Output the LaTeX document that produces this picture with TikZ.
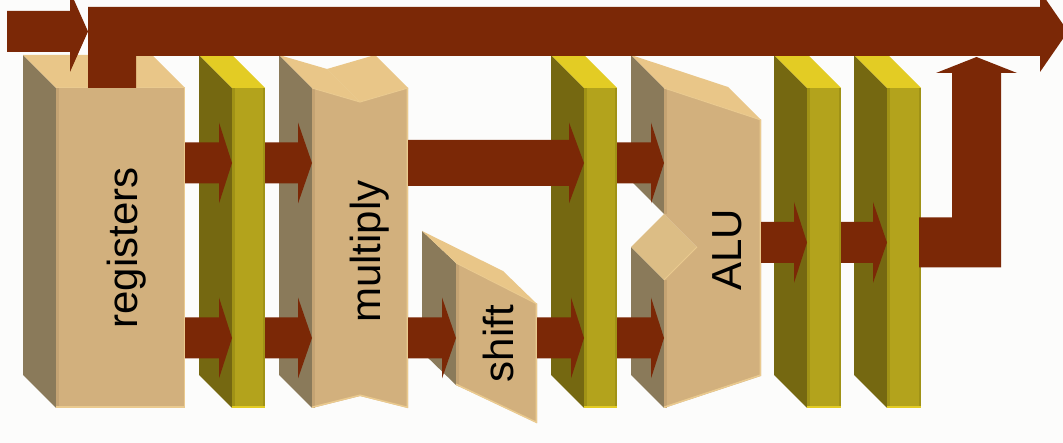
\documentclass[tikz,border=0pt]{standalone}
\usepackage{fontspec}
\setmainfont{Liberation Sans}
\usetikzlibrary{calc}

\definecolor{bg}{HTML}{FCFCFB}
\definecolor{tanside}{HTML}{8A7A5A}
\definecolor{tanfront}{HTML}{D2B07D}
\definecolor{tantop}{HTML}{E9C688}
\definecolor{tannotch}{HTML}{DCBD85}
\definecolor{tanedge}{HTML}{C4A373}
\definecolor{tanlight}{HTML}{EACA8F}
\definecolor{ylwside}{HTML}{756811}
\definecolor{ylwfront}{HTML}{B3A31C}
\definecolor{ylwtop}{HTML}{E3CC24}
\definecolor{ylwedge}{HTML}{A09216}
\definecolor{busred}{HTML}{7B2806}

\tikzset{
  face/.style={rectangle, inner sep=0pt, outer sep=0pt},
  lbl/.style={font=\fontsize{42}{50}\selectfont, text=black, inner sep=0pt,
              anchor=base, rotate=90},
  bus/.style={fill=busred},
}

% horizontal fat arrow: start, tip, shaft half-width, head half-width, head length
\newcommand\fatarrow[5]{%
  \fill[bus] let \p1=(#1), \p2=(#2) in
    (\x1,\y2+#3pt) -- (\x2-#5pt,\y2+#3pt) -- (\x2-#5pt,\y2+#4pt) -- (\x2,\y2)
    -- (\x2-#5pt,\y2-#4pt) -- (\x2-#5pt,\y2-#3pt) -- (\x1,\y2-#3pt) -- cycle;}

% tan block with a rectangular front face
\newcommand\tanslab[1]{%
  \fill[tanside] (#1.north west) -- ++(-33,-33) -- ($(#1.south west)+(-33,-33)$)
    -- (#1.south west) -- cycle;
  \fill[tantop] (#1.north west) -- ++(-33,-33) -- ($(#1.north east)+(-33,-33)$)
    -- (#1.north east) -- cycle;
  \fill[tanfront] (#1.north west) rectangle (#1.south east);
  \fill[tanedge] (#1.north west) rectangle ($(#1.south west)+(3,0)$);
  \draw[tanlight, line width=1.5pt] ($(#1.north east)+(-0.75,0)$)
    -- ($(#1.south east)+(-0.75,-0.75)$) -- ($(#1.south west)+(0,-0.75)$);
  \draw[tanlight, line width=1pt] (#1.north west) -- (#1.north east);}

% yellow pipeline register
\newcommand\ylwslab[1]{%
  \fill[ylwside] (#1.north west) -- ++(-33,-33) -- ($(#1.south west)+(-33,-33)$)
    -- (#1.south west) -- cycle;
  \fill[ylwtop] (#1.north west) -- ++(-33,-33) -- ($(#1.north east)+(-33,-33)$)
    -- (#1.north east) -- cycle;
  \fill[ylwfront] (#1.north west) rectangle (#1.south east);
  \fill[ylwedge] (#1.north west) rectangle ($(#1.south west)+(3,0)$);
  \fill[ylwedge] ($(#1.north east)+(-2.5,0)$) rectangle (#1.south east);
  \fill[ylwtop] ($(#1.south west)+(0,-2)$) rectangle (#1.south east);}

\begin{document}
\begin{tikzpicture}[x=1pt,y=-1pt]
\fill[bg] (0,0) rectangle (1063,443);
\useasboundingbox (0,0) rectangle (1063,443);
\clip (0,0) rectangle (1063,443);

% front faces of the stages
\node[face, minimum width=129, minimum height=320] (regs) at (120.5,248) {};
\node[face, minimum width=33,  minimum height=320] (pr1)  at (248.5,248) {};
\node[face, minimum width=96,  minimum height=320] (mul)  at (360,248) {};
\node[face, minimum width=81,  minimum height=160] (sh)   at (496.5,343) {};
\node[face, minimum width=33,  minimum height=320] (pr2)  at (600.5,248) {};
\node[face, minimum width=97,  minimum height=320] (alu)  at (712.5,248) {};
\node[face, minimum width=34,  minimum height=320] (pr3)  at (824,248) {};
\node[face, minimum width=34,  minimum height=320] (pr4)  at (904,248) {};

\coordinate (rowA) at (0,163);
\coordinate (rowB) at (0,338);
\coordinate (rowC) at (0,242.5);
\coordinate (busRoot) at (112,88);
\coordinate (busTip) at (1068,31.5);
\coordinate (inTail) at (7,31.5);
\coordinate (outTip) at (976.5,57);

% register file
\tanslab{regs}
\ylwslab{pr1}

% multiplier: V-shaped top and bottom
\fill[tanside] (mul.north west) -- ++(-33,-33) -- ($(mul.south west)+(-33,-33)$)
  -- (mul.south west) -- cycle;
\fill[tantop] (mul.north west) -- ($(mul.north)+(0,14)$) -- (mul.north east)
  -- ($(mul.north east)+(-33,-33)$) -- ($(mul.north)+(-33,-19)$)
  -- ($(mul.north west)+(-33,-33)$) -- cycle;
\draw[tanlight, line width=0.6pt] ($(mul.north)+(0,14)$) -- ($(mul.north)+(-33,-19)$);
\fill[tanfront] (mul.north west) -- ($(mul.north)+(0,14)$) -- (mul.north east)
  -- (mul.south east) -- ($(mul.south)+(0,-12)$) -- (mul.south west) -- cycle;
\fill[tanedge] (mul.north west) rectangle ($(mul.south west)+(3,0)$);
\draw[tanlight, line width=1.5pt] ($(mul.north east)+(-0.75,0)$)
  -- ($(mul.south east)+(-0.75,-0.75)$) -- ($(mul.south)+(0,-12.75)$)
  -- ($(mul.south west)+(0,-0.75)$);
\draw[tanlight, line width=1pt] (mul.north west) -- ($(mul.north)+(0,14)$) -- (mul.north east);

% shifter: slanted front face
\fill[tanside] (sh.north west) -- ++(-34,-32) -- ($(sh.south west)+(-34,-71)$)
  -- ($(sh.south west)+(0,-38)$) -- cycle;
\fill[tantop] (sh.north west) -- ++(-34,-32) -- ($(sh.north east)+(-34,8)$)
  -- ($(sh.north east)+(0,41)$) -- cycle;
\fill[tanfront] (sh.north west) -- ($(sh.north east)+(0,41)$) -- (sh.south east)
  -- ($(sh.south west)+(0,-38)$) -- cycle;
\fill[tanedge] (sh.north west) -- ($(sh.north west)+(3,1.5)$)
  -- ($(sh.south west)+(3,-36.5)$) -- ($(sh.south west)+(0,-38)$) -- cycle;
\draw[tanlight, line width=1.5pt] ($(sh.north east)+(-0.75,41)$)
  -- ($(sh.south east)+(-0.75,-0.75)$) -- ($(sh.south west)+(0,-38.75)$);
\draw[tanlight, line width=1pt] (sh.north west) -- ($(sh.north east)+(0,41)$);

\ylwslab{pr2}

% ALU: notched left side
\fill[tanside] (alu.north west) -- ++(-33,-33) -- ($(alu.west)+(-33,-67)$)
  -- ($(alu.west)+(0,-34)$) -- cycle;
\fill[tanside] ($(alu.west)+(-33,-1)$) -- ($(alu.west)+(0,32)$)
  -- (alu.south west) -- ($(alu.south west)+(-33,-33)$) -- cycle;
\fill[tannotch] ($(alu.west)+(-33,-1)$) -- ($(alu.west)+(0,-34)$)
  -- ($(alu.west)+(33,-1)$) -- ($(alu.west)+(0,32)$) -- cycle;
\fill[tantop] (alu.north west) -- ++(-33,-33) -- ($(alu.north east)+(-33,-1)$)
  -- ($(alu.north east)+(0,32)$) -- cycle;
\fill[tanfront] (alu.north west) -- ($(alu.north east)+(0,32)$)
  -- ($(alu.south east)+(0,-32)$) -- (alu.south west) -- ($(alu.west)+(0,32)$)
  -- ($(alu.west)+(33,-1)$) -- ($(alu.west)+(0,-34)$) -- cycle;
\fill[tanedge] (alu.north west) rectangle ($(alu.west)+(3,-34)$);
\fill[tanedge] ($(alu.west)+(0,32)$) rectangle ($(alu.south west)+(3,0)$);
\draw[tanlight, line width=1.5pt] ($(alu.north east)+(-0.75,32)$)
  -- ($(alu.south east)+(-0.75,-32.75)$) -- ($(alu.south west)+(0,-0.75)$);
\draw[tanlight, line width=1pt] (alu.north west) -- ($(alu.north east)+(0,32)$);
\draw[tanlight, line width=1pt] ($(alu.west)+(0,32)$) -- ($(alu.west)+(33,-1)$);

\ylwslab{pr3}
\ylwslab{pr4}

% stage names
\node[lbl] (regsTxt) at (137,248) {registers};
\node[lbl] (mulTxt) at (380,251.5) {multiply};
\node[lbl] (shTxt) at (513,343.5) {shift};
\node[lbl] (aluTxt) at (741,250) {ALU};

% data paths between stages
\fatarrow{regs.east |- rowA}{pr1.west |- rowA}{20.5}{40.5}{13}
\fatarrow{pr1.east |- rowA}{mul.west |- rowA}{20.5}{40.5}{14}
\fatarrow{mul.east |- rowA}{pr2.west |- rowA}{23}{40.5}{15}
\fatarrow{pr2.east |- rowA}{alu.west |- rowA}{20.5}{40.5}{13}

\fatarrow{regs.east |- rowB}{pr1.west |- rowB}{20.5}{40.5}{13}
\fatarrow{pr1.east |- rowB}{mul.west |- rowB}{20.5}{40.5}{14}
\fatarrow{mul.east |- rowB}{sh.west |- rowB}{20.5}{40.5}{14}
\fatarrow{sh.east |- rowB}{pr2.west |- rowB}{20.5}{40.5}{13}
\fatarrow{pr2.east |- rowB}{alu.west |- rowB}{20.5}{40.5}{13}

\fatarrow{alu.east |- rowC}{pr3.west |- rowC}{20.5}{40.5}{13}
\fatarrow{pr3.east |- rowC}{pr4.west |- rowC}{20.5}{40.5}{14}

% result written back up to the bus
\fill[bus] let \p1=($(pr4.east |- rowC)+(-2,0)$), \p2=(outTip) in
  (\x1,\y1-25pt) -- (\x2+24.5pt,\y1-25pt) -- (\x2+24.5pt,\y2-16pt)
  -- (\x2+40.5pt,\y2-16pt) -- (\x2,\y2) -- (\x2-40.5pt,\y2-16pt)
  -- (\x2-24.5pt,\y2-16pt) -- (\x2-24.5pt,\y1+25pt) -- (\x1,\y1+25pt) -- cycle;

% main bus leaving the register file
\fill[bus] let \p1=(busRoot), \p2=(busTip) in
  (\x1-24pt,\y1) -- (\x1-24pt,\y2+24.5pt) -- (\x2-28pt,\y2+24.5pt)
  -- (\x2-28pt,\y2+40.5pt) -- (\x2,\y2) -- (\x2-28pt,\y2-40.5pt)
  -- (\x2-28pt,\y2-24.5pt) -- (\x1+24pt,\y2-24.5pt) -- (\x1+24pt,\y1) -- cycle;

% incoming instruction arrow
\fatarrow{inTail}{$(busRoot |- busTip)+(-24,0)$}{20.5}{40.5}{18}
\end{tikzpicture}
\end{document}
